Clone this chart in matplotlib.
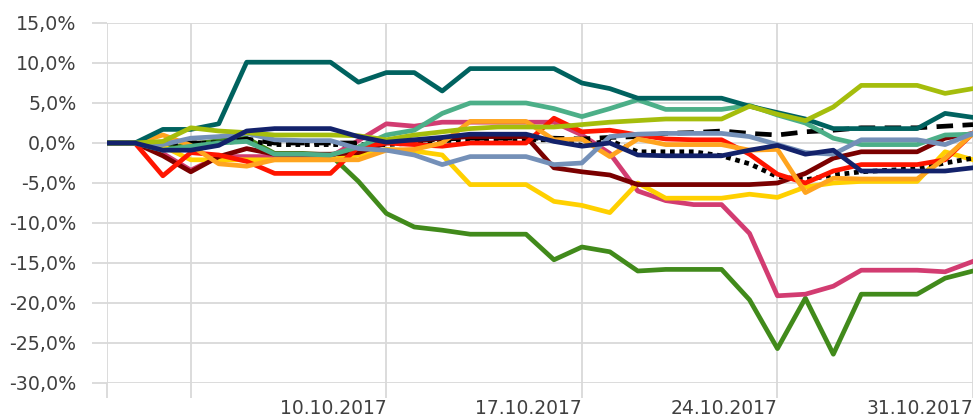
import matplotlib
matplotlib.use("Agg")
import matplotlib.pyplot as plt
import matplotlib.dates as mdates
from matplotlib.ticker import FuncFormatter
import pandas as pd

dates = pd.date_range("2017-09-30", "2017-10-31", freq="D")

teal = [0, 0, 1.7, 1.7, 2.4, 10.1, 10.1, 10.1, 10.1, 7.6, 8.8, 8.8, 6.5, 9.3, 9.3, 9.3,
        9.3, 7.5, 6.8, 5.6, 5.6, 5.6, 5.6, 4.6, 3.8, 3.0, 1.8, 1.8, 1.8, 1.8, 3.7, 3.2]
lime = [0, 0, 0.2, 1.9, 1.5, 1.3, 1.0, 1.0, 1.0, 0.9, 0.4, 1.0, 1.4, 1.8, 2.0, 2.0,
        2.0, 2.3, 2.6, 2.8, 3.0, 3.0, 3.0, 4.6, 3.6, 2.8, 4.5, 7.2, 7.2, 7.2, 6.2, 6.8]
seafoam = [0, 0, -0.9, -0.4, 0.0, 0.2, -1.4, -1.4, -1.5, -0.5, 1.0, 1.6, 3.7, 5.0, 5.0, 5.0,
           4.3, 3.3, 4.3, 5.4, 4.2, 4.2, 4.2, 4.7, 3.5, 2.5, 0.6, -0.2, -0.2, -0.2, 1.0, 1.1]
steel = [0, 0, -0.2, 0.6, 0.8, 1.2, 0.4, 0.3, 0.3, -0.7, -0.9, -1.5, -2.7, -1.7, -1.7, -1.7,
         -2.7, -2.5, 0.8, 1.1, 1.2, 1.2, 1.2, 0.8, -0.2, -1.2, -1.4, 0.4, 0.4, 0.4, -0.2, 1.2]
maroon = [0, 0, -1.6, -3.6, -1.7, -0.7, -1.4, -1.4, -1.4, -1.2, 0.0, 0.3, 0.6, 0.8, 0.8, 0.8,
          -3.1, -3.6, -4.0, -5.2, -5.2, -5.2, -5.2, -5.2, -5.0, -3.8, -1.9, -1.1, -1.1, -1.1, 0.6, 1.2]
red = [0, 0, -4.1, -1.2, -1.5, -2.3, -3.8, -3.8, -3.8, -0.5, 0.0, -0.2, -0.4, 0.0, 0.0, 0.0,
       3.1, 1.4, 1.6, 1.0, 0.5, 0.4, 0.4, -1.4, -3.9, -5.0, -3.5, -2.7, -2.7, -2.7, -2.1, 1.2]
orange = [0, 0, 1.0, -0.3, -2.6, -2.9, -2.1, -2.1, -2.1, -2.1, -0.9, -0.8, 0.0, 2.7, 2.7, 2.7,
          0.4, 0.5, -1.7, 0.5, -0.2, -0.2, -0.2, -0.9, -0.8, -6.2, -4.4, -4.5, -4.5, -4.5, -1.9, 1.2]
yellow = [0, 0, -0.4, -2.1, -2.1, -2.1, -2.1, -2.1, -2.1, -1.5, -0.8, -1.0, -1.5, -5.2, -5.2, -5.2,
          -7.3, -7.8, -8.7, -5.0, -6.9, -6.9, -6.9, -6.4, -6.8, -5.5, -5.0, -4.8, -4.8, -4.8, -1.1, -2.1]
pink = [0, 0, -1.3, -3.4, -1.7, -1.7, -1.7, -1.7, -1.7, 0.3, 2.4, 2.1, 2.6, 2.6, 2.6, 2.6,
        2.6, 1.0, -1.3, -6.0, -7.2, -7.7, -7.7, -11.3, -19.1, -18.9, -17.9, -15.9, -15.9, -15.9, -16.1, -14.8]
green = [0, 0, -0.7, -0.2, 0.3, 0.6, -1.3, -1.3, -1.5, -4.8, -8.8, -10.5, -10.9, -11.4, -11.4, -11.4,
         -14.6, -13.0, -13.6, -16.0, -15.8, -15.8, -15.8, -19.6, -25.7, -19.4, -26.4, -18.9, -18.9, -18.9, -16.9, -16.0]
dashed = [0, 0, 0, 0, 0, 0.5, 0, 0, 0, 0, 0, 0.3, 0.5, 0.6, 0.6, 0.6,
          0.6, 0.5, 0.7, 0.8, 1.2, 1.3, 1.5, 1.2, 1.0, 1.4, 1.6, 1.9, 1.9, 1.9, 2.1, 2.3]
dotted = [0, 0, 0, 0, 0, 0.3, -0.2, -0.2, -0.2, -0.2, -0.2, 0.0, 0.3, 0.4, 0.4, 0.4,
          0.4, -0.3, 0.3, -1.1, -1.1, -1.1, -1.6, -2.6, -4.2, -4.6, -4.0, -3.6, -3.4, -3.2, -2.5, -1.9]
navy = [0, 0, -0.9, -0.9, -0.3, 1.5, 1.8, 1.8, 1.8, 0.8, 0.1, 0.4, 0.7, 1.1, 1.1, 1.1,
        0.2, -0.4, 0.0, -1.5, -1.6, -1.6, -1.6, -0.9, -0.3, -1.4, -0.9, -3.5, -3.5, -3.5, -3.5, -3.1]

tick_dates = pd.to_datetime(["2017-09-30", "2017-10-03", "2017-10-10",
                             "2017-10-17", "2017-10-24", "2017-10-31"])
tick_labels = ["", "", "10.10.2017", "17.10.2017", "24.10.2017", "31.10.2017"]

grid_c = "#d9d9d9"
text_c = "#404040"

fig = plt.figure(figsize=(9.73, 4.17), dpi=100)
ax = fig.add_axes([107 / 973, 34 / 417, 866 / 973, 360 / 417])

lw = 3.4
ax.plot(dates, green, color="#418a1b", lw=lw)
ax.plot(dates, pink, color="#d23c71", lw=lw)
ax.plot(dates, yellow, color="#ffd000", lw=lw)
ax.plot(dates, dotted, color="black", lw=lw, ls=(0, (1, 1)))
ax.plot(dates, dashed, color="black", lw=lw, ls=(0, (3.5, 2)))
ax.plot(dates, maroon, color="#7a0000", lw=lw)
ax.plot(dates, red, color="#ff1500", lw=lw)
ax.plot(dates, orange, color="#ffa41f", lw=lw)
ax.plot(dates, seafoam, color="#4caf88", lw=lw)
ax.plot(dates, steel, color="#7490b8", lw=lw)
ax.plot(dates, teal, color="#00625f", lw=lw)
ax.plot(dates, lime, color="#a5bd0c", lw=lw)
ax.plot(dates, navy, color="#13226b", lw=lw)

ax.set_ylim(-30, 15)
ax.set_yticks(range(-30, 16, 5))
ax.yaxis.set_major_formatter(FuncFormatter(lambda v, p: f"{v:.1f}%".replace(".", ",")))

x0 = mdates.date2num(dates[0])
ax.set_xlim(x0, x0 + 30.93)
ax.set_xticks(tick_dates)
ax.set_xticklabels(tick_labels, ha="right")

ax.grid(True, color=grid_c, lw=1.3)
ax.set_axisbelow(True)
for s in ax.spines.values():
    s.set_visible(False)
ax.tick_params(axis="y", length=11, width=1.3, color=grid_c, pad=11,
               labelsize=13.7, labelcolor=text_c)
ax.tick_params(axis="x", length=11, width=1.3, color=grid_c, pad=0.5,
               labelsize=13.5, labelcolor=text_c)

fig.savefig("out.png", dpi=100)
